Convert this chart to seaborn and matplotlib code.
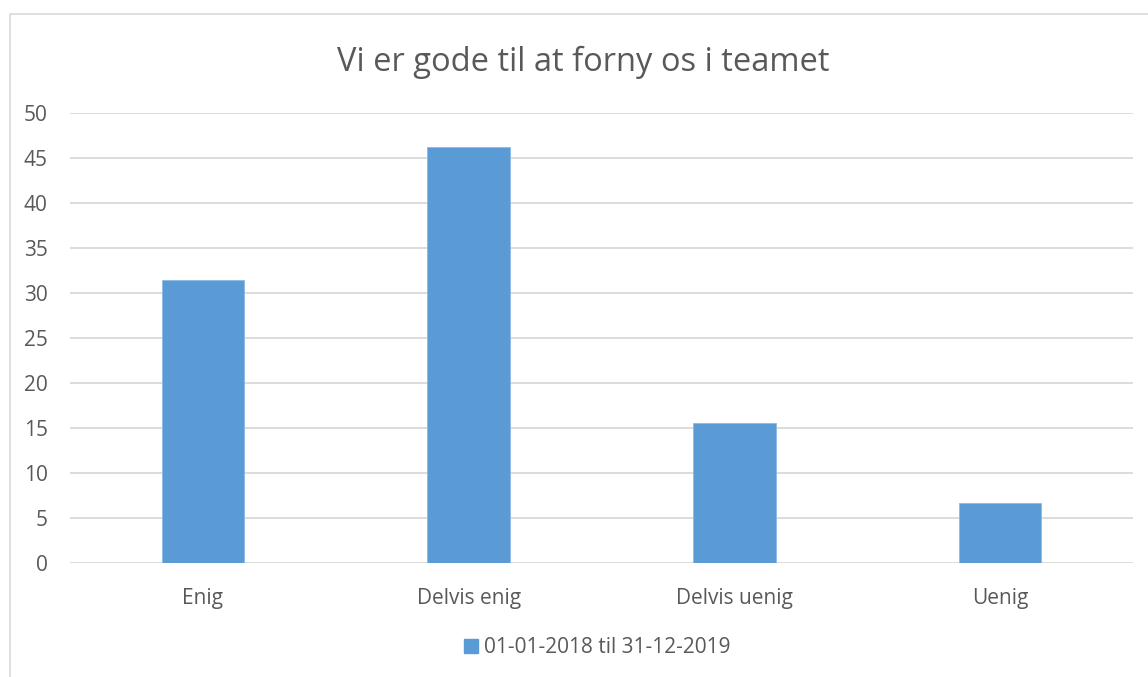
import pandas as pd
import matplotlib.pyplot as plt
import matplotlib.patches as mpatches
import seaborn as sns

# svar-kategorier og procenter
categories = ["Enig", "Delvis enig", "Delvis uenig", "Uenig"]
values = [31.4, 46.2, 15.5, 6.7]
series_name = "01-01-2018 til 31-12-2019"
y_ticks = [0, 5, 10, 15, 20, 25, 30, 35, 40, 45, 50]

df = pd.DataFrame({"svar": categories, "pct": values, "periode": series_name})

sns.set_style("white")
plt.rcParams['font.family'] = ['Open Sans', 'DejaVu Sans']
text_col = '#595959'
bar_col = '#5B9BD5'

fig = plt.figure(figsize=(11.48, 6.77), dpi=100)
ax = fig.add_axes([0.061, 0.1684, 0.926, 0.6647])

sns.barplot(data=df, x="svar", y="pct", hue="periode", palette=[bar_col], saturation=1,
            width=0.31, ax=ax, legend=False, edgecolor='#8DBAE2', linewidth=0.6, zorder=3)

ax.set_ylim(0, 50)
ax.set_yticks(y_ticks)
ax.set_xlim(-0.5, 3.5)
ax.yaxis.grid(True, color='#D9D9D9', linewidth=1.3, zorder=0)
ax.set_axisbelow(True)
for s in ax.spines.values():
    s.set_visible(False)
ax.tick_params(axis='both', length=0, labelsize=15, colors=text_col)
ax.tick_params(axis='x', pad=18)
ax.tick_params(axis='y', pad=16)
ax.set_xlabel("")
ax.set_ylabel("")

fig.text(0.508, 0.908, "Vi er gode til at forny os i teamet", ha='center', va='center',
         fontsize=23.5, color=text_col)

handle = mpatches.Patch(color=bar_col, label=series_name)
fig.legend(handles=[handle], loc='center', bbox_to_anchor=(0.52, 0.043), frameon=False,
           fontsize=15, labelcolor=text_col, handlelength=0.7, handleheight=0.7,
           handletextpad=0.25)

# ramme om diagrammet
fig.patches.append(mpatches.Rectangle((10 / 1148, -0.05), 1.2, 1 - 14 / 677 + 0.05,
                                      transform=fig.transFigure, fill=False,
                                      edgecolor='#D9D9D9', linewidth=1.2))

fig.savefig("out.png", dpi=100)
